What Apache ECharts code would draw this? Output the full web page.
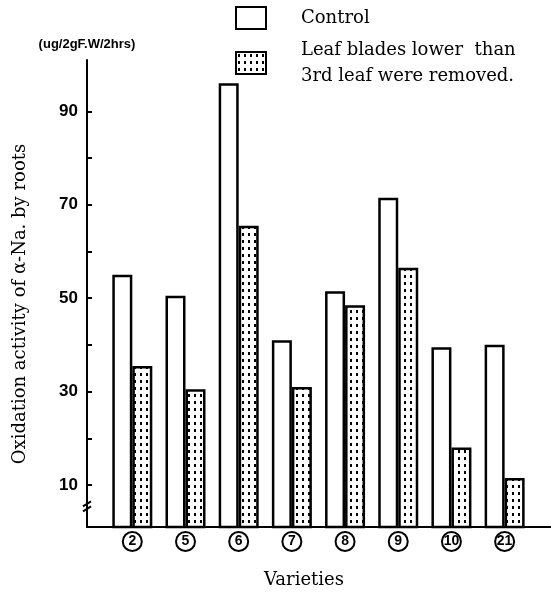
<!DOCTYPE html>
<html>
<head>
<meta charset="utf-8">
<title>Oxidation activity of α-Na. by roots</title>
<script src="https://cdn.jsdelivr.net/npm/echarts@6/dist/echarts.min.js"></script>
<style>
  html, body { margin: 0; padding: 0; background: #fff; }
  #chart { width: 551px; height: 595px; }
</style>
</head>
<body>
<div id="chart"></div>
<script>
// Varieties (circled numbers on the category axis)
const categories = ['2', '5', '6', '7', '8', '9', '10', '21'];
// Oxidation activity, control plants
const controlValues = [55, 50.5, 96, 41, 51.5, 71.5, 39.5, 40];
// Oxidation activity, leaf blades below the 3rd leaf removed
const removedValues = [35.5, 30.5, 65.5, 31, 48.5, 56.5, 18, 11.5];
// Y axis labels and ticks
const yLabelValues = [10, 30, 50, 70, 90];
const yTickValues = [10, 20, 30, 40, 50, 60, 70, 80, 90];

const seriesNames = ['Control', 'Leaf blades lower  than\n3rd leaf were removed.'];

// Dotted fill used for the treated bars
function dotPattern() {
  const c = document.createElement('canvas');
  c.width = 6; c.height = 7;
  const ctx = c.getContext('2d');
  ctx.fillStyle = '#fff';
  ctx.fillRect(0, 0, 6, 7);
  ctx.fillStyle = '#000';
  ctx.fillRect(2, 2, 2, 3);
  return { image: c, repeat: 'repeat' };
}

const serif = '"DejaVu Serif", "Liberation Serif", serif';
const sans = '"Liberation Sans", Arial, sans-serif';
const xMin = -0.852;
const xMax = 7.872;

const chart = echarts.init(document.getElementById('chart'), null, { renderer: 'canvas' });

chart.setOption({
  backgroundColor: '#fff',
  animation: false,
  grid: { left: 87, right: 0, top: 60, bottom: 68, containLabel: false },
  legend: {
    orient: 'vertical',
    left: 230,
    top: 0,
    icon: 'rect',
    itemWidth: 30,
    itemHeight: 22,
    itemGap: 6,
    selectedMode: false,
    data: seriesNames,
    textStyle: {
      fontFamily: serif,
      fontSize: 18,
      color: '#000',
      lineHeight: 26,
      padding: [0, 0, 0, 30]
    }
  },
  title: {
    text: 'Varieties',
    left: 259,
    top: 566,
    textStyle: { fontFamily: serif, fontSize: 18, fontWeight: 'normal', color: '#000' }
  },
  xAxis: {
    type: 'value',
    min: xMin,
    max: xMax,
    splitLine: { show: false },
    axisLine: { show: true, onZero: false, lineStyle: { color: '#000', width: 2 } },
    axisTick: { show: false },
    axisLabel: {
      customValues: categories.map((_, i) => i),
      margin: 5,
      formatter: v => '{c|' + categories[v] + '}',
      rich: {
        c: {
          width: 19,
          height: 19,
          lineHeight: 19,
          align: 'center',
          borderColor: '#000',
          borderWidth: 2,
          borderRadius: 11,
          fontFamily: sans,
          fontWeight: 'bold',
          fontSize: 14,
          color: '#000'
        }
      }
    }
  },
  yAxis: {
    type: 'value',
    min: 1,
    max: 101,
    name: '(ug/2gF.W/2hrs)',
    nameLocation: 'end',
    nameGap: 9,
    nameTextStyle: { fontFamily: sans, fontWeight: 'bold', fontSize: 13, color: '#000' },
    splitLine: { show: false },
    axisLine: { show: true, onZero: false, lineStyle: { color: '#000', width: 2 } },
    axisTick: {
      show: true,
      inside: true,
      length: 5,
      customValues: yTickValues,
      lineStyle: { color: '#000', width: 2 }
    },
    axisLabel: {
      customValues: yLabelValues,
      margin: 9,
      fontFamily: sans,
      fontWeight: 'bold',
      fontSize: 17,
      color: '#000'
    }
  },
  series: [
    {
      name: seriesNames[0],
      type: 'bar',
      barWidth: 20,
      barGap: '0%',
      data: controlValues.map((v, i) => [i, v]),
      itemStyle: { color: '#fff', borderColor: '#000', borderWidth: 2.5 }
    },
    {
      name: seriesNames[1],
      type: 'bar',
      barWidth: 20,
      barGap: '0%',
      data: removedValues.map((v, i) => [i, v]),
      itemStyle: { color: dotPattern(), borderColor: '#000', borderWidth: 2.5 }
    }
  ]
});

// Value-axis title and the axis-break marks near the foot of the value axis
const axisX = chart.convertToPixel({ xAxisIndex: 0 }, xMin);
const breakY = chart.convertToPixel({ yAxisIndex: 0 }, 5);
chart.setOption({
  graphic: [
    {
      id: 'yTitle',
      type: 'text',
      x: 20,
      y: 304,
      rotation: Math.PI / 2,
      style: {
        text: 'Oxidation activity of α-Na. by roots',
        font: '18px ' + serif,
        fill: '#000',
        align: 'center',
        verticalAlign: 'middle'
      }
    },
    {
      id: 'axisBreak',
      type: 'group',
      x: axisX,
      y: breakY,
      children: [
        { type: 'rect', shape: { x: -3, y: -5, width: 6, height: 6 }, style: { fill: '#fff' } },
        { type: 'line', shape: { x1: -4, y1: -2, x2: 4, y2: -7 }, style: { stroke: '#000', lineWidth: 2 } },
        { type: 'line', shape: { x1: -4, y1: 3, x2: 4, y2: -2 }, style: { stroke: '#000', lineWidth: 2 } }
      ]
    }
  ]
});
</script>
</body>
</html>
